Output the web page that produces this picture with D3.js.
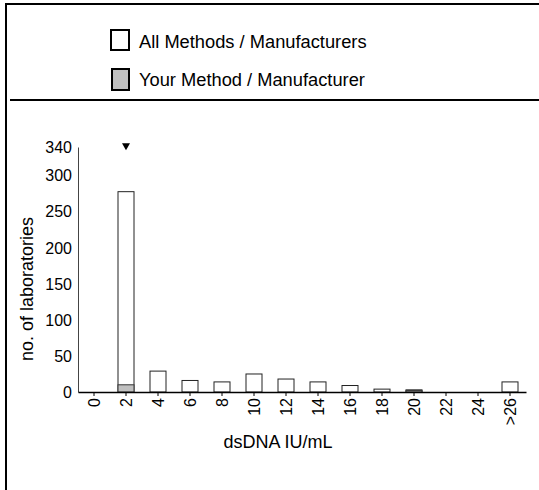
<!DOCTYPE html>
<html><head><meta charset="utf-8">
<script src="https://cdn.jsdelivr.net/npm/d3@7"></script>
<style>
body{margin:0;background:#fff;}
text{font-family:"Liberation Sans",Arial,sans-serif;fill:#000;}
</style></head>
<body>
<svg id="c" width="539" height="490"></svg>
<script>
const categories = ["0","2","4","6","8","10","12","14","16","18","20","22","24",">26"];
const allValues  = [0,278,29,16,14,25,18,14,9,4,3,0,0,14];
const yourValues = [0,10,0,0,0,0,0,0,0,0,2,0,0,0];
const yTicks = [0,50,100,150,200,250,300,340];
const yourResult = "2";
const legendLabels = ["All Methods / Manufacturers","Your Method / Manufacturer"];

const svg = d3.select("#c");

// frame
svg.append("line").attr("x1",5).attr("x2",539).attr("y1",4).attr("y2",4).attr("stroke","#000").attr("stroke-width",2);
svg.append("line").attr("x1",6).attr("x2",6).attr("y1",3).attr("y2",490).attr("stroke","#000").attr("stroke-width",2);
svg.append("line").attr("x1",10).attr("x2",539).attr("y1",100).attr("y2",100).attr("stroke","#000").attr("stroke-width",2);

// legend
const leg = [{x:111,y:30,w:18,h:20,fill:"#fff",ty:47.5},{x:112,y:69,w:17,h:21,fill:"#c0c0c0",ty:86}];
leg.forEach((d,i)=>{
  svg.append("rect").attr("x",d.x).attr("y",d.y).attr("width",d.w).attr("height",d.h)
    .attr("fill",d.fill).attr("stroke","#000").attr("stroke-width",2);
  svg.append("text").attr("x",139).attr("y",d.ty).attr("font-size",18.3).text(legendLabels[i]);
});

const x = d3.scaleBand().domain(categories).range([78,526]).paddingInner(0.5).paddingOuter(0.25);
const y = d3.scaleLinear().domain([0,340]).range([392,147]);

// bars
svg.append("g").selectAll("rect").data(categories).join("rect")
  .attr("x",d=>x(d)).attr("width",x.bandwidth())
  .attr("y",(d,i)=>y(allValues[i])).attr("height",(d,i)=>y(0)-y(allValues[i]))
  .attr("fill","#fff").attr("stroke",(d,i)=>allValues[i]>0?"#222":"none").attr("stroke-width",1);
svg.append("g").selectAll("rect").data(categories).join("rect")
  .attr("x",d=>x(d)).attr("width",x.bandwidth())
  .attr("y",(d,i)=>y(yourValues[i])).attr("height",(d,i)=>y(0)-y(yourValues[i]))
  .attr("fill","#c0c0c0").attr("stroke",(d,i)=>yourValues[i]>0?"#333":"none").attr("stroke-width",1);

// y axis
const ya = svg.append("g").attr("transform","translate(78,0)")
  .call(d3.axisLeft(y).tickValues(yTicks).tickSize(0).tickPadding(6));
ya.select(".domain").attr("stroke","#444").attr("stroke-width",1);
ya.selectAll("text").attr("font-size",16).attr("font-family","Liberation Sans, Arial, sans-serif").attr("fill","#000");

// x axis
const xa = svg.append("g").attr("transform","translate(0,392)")
  .call(d3.axisBottom(x).tickSize(4).tickSizeOuter(0));
xa.select(".domain").attr("stroke","#000").attr("stroke-width",1.3);
xa.selectAll(".tick line").attr("stroke","#000");
xa.selectAll("text").attr("font-size",16).attr("font-family","Liberation Sans, Arial, sans-serif").attr("fill","#000")
  .attr("transform","rotate(-90)").attr("text-anchor","end")
  .attr("x",-6).attr("y",0).attr("dy","0.35em");

// marker
svg.append("path").attr("d",d3.symbol().type(d3.symbolTriangle).size(28)())
  .attr("transform",`translate(${x(yourResult)+x.bandwidth()/2},145.5) rotate(180)`).attr("fill","#000");

// titles
svg.append("text").attr("x",278).attr("y",448).attr("text-anchor","middle").attr("font-size",18).text("dsDNA IU/mL");
svg.append("text").attr("transform","translate(33,289) rotate(-90)").attr("text-anchor","middle").attr("font-size",18).text("no. of laboratories");
</script>
</body></html>
